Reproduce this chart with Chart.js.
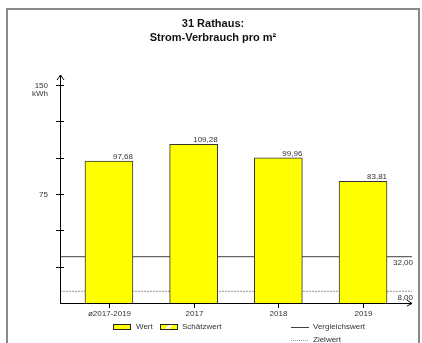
<!DOCTYPE html>
<html>
<head>
<meta charset="utf-8">
<script src="https://cdn.jsdelivr.net/npm/chart.js@4.4.1/dist/chart.umd.min.js"></script>
<style>
html,body{margin:0;padding:0;background:#fff;}
#wrap{width:422px;height:343px;position:relative;}
</style>
</head>
<body>
<div id="wrap"><canvas id="c" width="422" height="343"></canvas></div>
<script>
const titleLines = ['31 Rathaus:', 'Strom-Verbrauch pro m²'];
const categories = ['ø2017-2019', '2017', '2018', '2019'];
const wertValues = [97.68, 109.28, 99.96, 83.81];
const vergleichswert = 32;
const zielwert = 8;
const yTickValues = [25, 50, 75, 100, 125, 150];
const yTickLabels = ['', '', '75', '', '', '150'];
const yUnit = 'kWh';
const legendBars = ['Wert', 'Schätzwert'];
const legendLines = ['Vergleichswert', 'Zielwert'];

const FONT = '"Liberation Sans", Arial, sans-serif';
const X_MIN = -0.578, X_MAX = 3.578, Y_MAX = 157;
const fmt = v => v.toFixed(2).replace('.', ',');

const decor = {
  id: 'decor',
  beforeDraw(chart) {
    const ctx = chart.ctx;
    ctx.save();
    ctx.fillStyle = '#fff';
    ctx.fillRect(0, 0, chart.width, chart.height);
    ctx.strokeStyle = '#8a8a8a';
    ctx.lineWidth = 2;
    ctx.beginPath();
    ctx.moveTo(7, 360); ctx.lineTo(7, 9); ctx.lineTo(419, 9); ctx.lineTo(419, 360);
    ctx.stroke();
    // title
    ctx.fillStyle = '#111';
    ctx.font = 'bold 11px ' + FONT;
    ctx.textAlign = 'center';
    ctx.textBaseline = 'middle';
    ctx.fillText(titleLines[0], 213, 24);
    ctx.fillText(titleLines[1], 213, 38);
    ctx.restore();
  },
  afterDraw(chart) {
    const ctx = chart.ctx;
    const xs = chart.scales.x, ys = chart.scales.y;
    const ca = chart.chartArea;
    const x0 = ca.left, y0 = ys.getPixelForValue(0);
    ctx.save();
    ctx.strokeStyle = '#000';
    ctx.lineWidth = 1;
    // y axis
    ctx.beginPath();
    ctx.moveTo(x0 + 0.5, y0); ctx.lineTo(x0 + 0.5, ca.top);
    ctx.moveTo(x0 - 3, ca.top + 5); ctx.lineTo(x0 + 0.5, ca.top); ctx.lineTo(x0 + 4, ca.top + 5);
    // x axis
    ctx.moveTo(x0, y0 + 0.5); ctx.lineTo(ca.right, y0 + 0.5);
    ctx.moveTo(ca.right - 5, y0 - 3); ctx.lineTo(ca.right, y0 + 0.5); ctx.lineTo(ca.right - 5, y0 + 3);
    ctx.stroke();
    // y ticks
    ctx.font = '8px ' + FONT;
    ctx.fillStyle = '#333';
    ctx.textAlign = 'right';
    ctx.textBaseline = 'middle';
    yTickValues.forEach((v, i) => {
      const y = Math.round(ys.getPixelForValue(v)) + 0.5;
      ctx.beginPath(); ctx.moveTo(x0 - 4, y); ctx.lineTo(x0 + 4, y); ctx.stroke();
      if (yTickLabels[i]) ctx.fillText(yTickLabels[i], x0 - 12, y);
    });
    ctx.fillText(yUnit, x0 - 12, ys.getPixelForValue(150) + 9);
    // x ticks
    ctx.textAlign = 'center';
    categories.forEach((c, i) => {
      const x = Math.round(xs.getPixelForValue(i)) + 0.5;
      ctx.beginPath(); ctx.moveTo(x, y0); ctx.lineTo(x, y0 + 5); ctx.stroke();
      ctx.fillText(c, x, y0 + 11);
    });
    // value labels for bars
    const meta = chart.getDatasetMeta(0);
    meta.data.forEach((el, i) => {
      ctx.textAlign = 'right';
      ctx.textBaseline = 'alphabetic';
      ctx.fillText(fmt(wertValues[i]), el.x + el.width / 2, el.y - 2);
    });
    // reference line labels
    ctx.textAlign = 'right';
    ctx.textBaseline = 'top';
    ctx.fillText(fmt(vergleichswert), ca.right + 1, ys.getPixelForValue(vergleichswert) + 2);
    ctx.fillText(fmt(zielwert), ca.right + 1, ys.getPixelForValue(zielwert) + 2);
    // legend
    ctx.textAlign = 'left';
    ctx.textBaseline = 'middle';
    const ly = 326.5;
    // Wert
    ctx.fillStyle = '#ffff00';
    ctx.fillRect(113, 324, 18, 6);
    ctx.strokeStyle = '#222';
    ctx.strokeRect(113.5, 324.5, 17, 5);
    ctx.fillStyle = '#333';
    ctx.fillText(legendBars[0], 136, ly);
    // Schätzwert (hatched)
    ctx.fillStyle = '#ffff00';
    ctx.fillRect(160, 324, 18, 6);
    ctx.fillStyle = '#fff';
    ctx.beginPath();
    ctx.moveTo(164, 330); ctx.lineTo(170, 324); ctx.lineTo(174, 324); ctx.lineTo(168, 330); ctx.closePath();
    ctx.fill();
    ctx.strokeStyle = '#222';
    ctx.strokeRect(160.5, 324.5, 17, 5);
    ctx.fillStyle = '#333';
    ctx.fillText(legendBars[1], 182, ly);
    // line legends
    ctx.strokeStyle = '#444';
    ctx.lineWidth = 1;
    ctx.beginPath(); ctx.moveTo(291, 327.5); ctx.lineTo(309, 327.5); ctx.stroke();
    ctx.fillText(legendLines[0], 313, 327);
    ctx.strokeStyle = '#999';
    ctx.setLineDash([1, 1]);
    ctx.beginPath(); ctx.moveTo(291, 340.5); ctx.lineTo(309, 340.5); ctx.stroke();
    ctx.setLineDash([]);
    ctx.fillText(legendLines[1], 313, 340);
    ctx.restore();
  }
};

new Chart(document.getElementById('c'), {
  type: 'bar',
  data: {
    datasets: [
      {
        type: 'bar',
        label: legendBars[0],
        data: wertValues.map((v, i) => ({ x: i, y: v })),
        backgroundColor: '#ffff00',
        borderColor: '#333',
        borderWidth: 1,
        borderSkipped: 'bottom',
        barThickness: 48,
        order: 0
      },
      {
        type: 'line',
        label: legendLines[0],
        data: [{ x: X_MIN, y: vergleichswert }, { x: X_MAX, y: vergleichswert }],
        borderColor: '#666',
        borderWidth: 1.2,
        pointRadius: 0,
        order: 1
      },
      {
        type: 'line',
        label: legendLines[1],
        data: [{ x: X_MIN, y: zielwert }, { x: X_MAX, y: zielwert }],
        borderColor: '#aaa',
        borderWidth: 1.2,
        borderDash: [2, 1],
        pointRadius: 0,
        order: 1
      }
    ]
  },
  options: {
    responsive: false,
    animation: false,
    layout: { padding: { left: 60, right: 10, top: 75, bottom: 40 } },
    plugins: { legend: { display: false }, title: { display: false }, tooltip: { enabled: false } },
    scales: {
      x: { type: 'linear', min: X_MIN, max: X_MAX, display: false, offset: false },
      y: { min: 0, max: Y_MAX, display: false }
    }
  },
  plugins: [decor]
});
</script>
</body>
</html>
